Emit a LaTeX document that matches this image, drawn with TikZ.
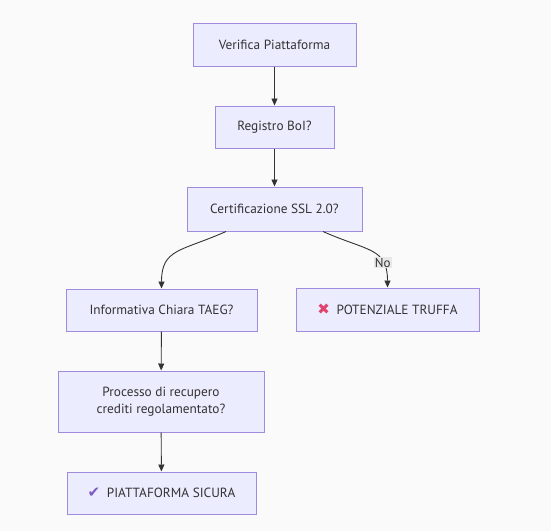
\documentclass[tikz,border=0pt]{standalone}
\usepackage{fontspec}
\setmainfont{PT Sans}
\newfontfamily\symfont{DejaVu Sans}
\usepackage{xcolor}
\usetikzlibrary{positioning,arrows.meta}
\definecolor{boxfill}{HTML}{ECECFF}
\definecolor{boxline}{HTML}{A08BDF}
\definecolor{edgecol}{HTML}{333333}
\definecolor{bgcol}{HTML}{FAFAFB}
\definecolor{nobg}{HTML}{E8E8E8}
\definecolor{crosscol}{HTML}{E0446E}
\definecolor{checkcol}{HTML}{7C5CC4}
\tikzset{
  flowbox/.style={rectangle, draw=boxline, fill=boxfill, line width=1pt,
    minimum height=42pt, inner sep=0pt, align=center, text=edgecol,
    font=\fontsize{13.3}{17}\selectfont},
  flowline/.style={draw=edgecol, line width=0.9pt}
}
\newcommand{\iconmark}[2]{{\symfont\fontsize{15}{15}\selectfont\color{#1}\char"#2}}

\begin{document}
\begin{tikzpicture}[x=1pt,y=-1pt,->,>={Triangle[length=7pt,width=6pt]},
    every edge/.style={flowline}]
  \fill[bgcol] (0,0) rectangle (551,531);
  \useasboundingbox (0,0) rectangle (551,531);
  \node[flowbox, minimum width=163pt, minimum height=43pt] (verif) at (274.5,44.5) {Verifica Piattaforma};
  \node[flowbox, minimum width=119pt] (reg) at (274.5,127) {Registro BoI?};
  \node[flowbox, minimum width=175pt, minimum height=44pt] (cert) at (274.5,209) {Certificazione SSL 2.0?};
  \node[flowbox, minimum width=191pt] (info) at (161.5,310) {Informativa Chiara TAEG?};
  \node[flowbox, minimum width=183pt, minimum height=43pt] (truffa) at (387.5,309.5)
    {\iconmark{crosscol}{2716}\enspace POTENZIALE TRUFFA};
  \node[flowbox, minimum width=206pt, minimum height=61pt] (proc) at (161,401.5)
    {Processo di recupero\\crediti regolamentato?};
  \node[flowbox, minimum width=189pt] (sicura) at (161.5,493)
    {\iconmark{checkcol}{2714}\enspace PIATTAFORMA SICURA};
  \path (verif) edge (reg);
  \path (reg) edge (cert);
  \draw[flowline] ([xshift=-48.5pt]cert.south) .. controls +(-45,20) and +(0,-40) .. (info.north);
  \draw[flowline] ([xshift=48.5pt]cert.south) .. controls +(45,20) and +(0,-40) .. (truffa.north)
    node[pos=0.72, fill=nobg, inner sep=1pt, text=edgecol, font=\fontsize{13}{15}\selectfont] (no) {No};
  \path (info) edge (proc);
  \path (proc) edge (sicura);
\end{tikzpicture}
\end{document}
